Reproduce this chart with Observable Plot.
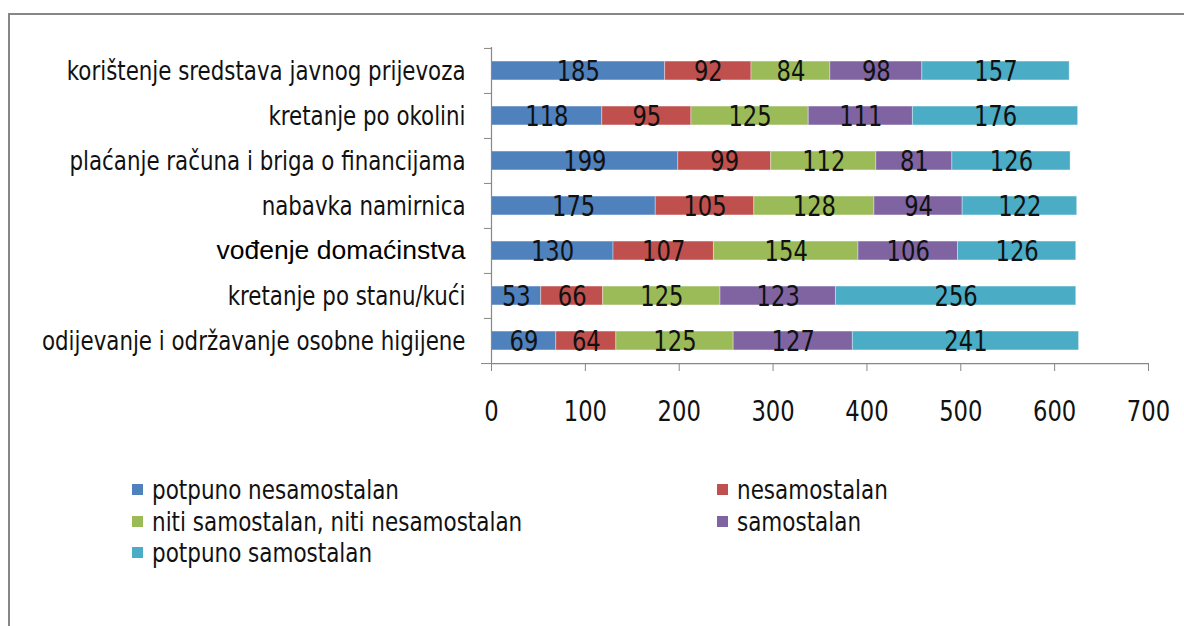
<!DOCTYPE html>
<html>
<head>
<meta charset="utf-8">
<script src="https://cdn.jsdelivr.net/npm/d3@7"></script>
<script src="https://cdn.jsdelivr.net/npm/@observablehq/plot@0.6"></script>
<style>
  html, body { margin: 0; padding: 0; background: #fff; }
  #wrap { position: relative; width: 1184px; height: 626px; overflow: hidden; background: #fff; }
  #frame { position: absolute; left: 8px; top: 13px; width: 1200px; height: 640px;
           border-left: 2.5px solid #878787; border-top: 2.5px solid #878787; box-sizing: border-box; }
  #chart { position: absolute; left: 0; top: 0; }
  #legend { position: absolute; left: 132px; top: 474px; display: grid;
            grid-template-columns: 585px auto; grid-auto-rows: 31.5px;
            font-family: "DejaVu Sans Condensed", "DejaVu Sans", sans-serif; font-size: 27px; color: #111; }
  .item { display: flex; align-items: center; white-space: nowrap; }
  .sw { width: 11px; height: 11px; margin-right: 9px; flex: none; }
  .lt { display: inline-block; transform: scaleX(0.885); transform-origin: left center; }
</style>
</head>
<body>
<div id="wrap">
  <div id="frame"></div>
  <div id="chart"></div>
  <div id="legend"></div>
</div>
<script>
const categories = [
  "korištenje sredstava javnog prijevoza",
  "kretanje po okolini",
  "plaćanje računa i briga o financijama",
  "nabavka namirnica",
  "vođenje domaćinstva",
  "kretanje po stanu/kući",
  "odijevanje i održavanje osobne higijene"
];
const series = [
  "potpuno nesamostalan",
  "nesamostalan",
  "niti samostalan, niti nesamostalan",
  "samostalan",
  "potpuno samostalan"
];
const colors = ["#4F81BD", "#C0504D", "#9BBB59", "#8064A2", "#4BACC6"];
// values per series, in category order
const potpunoNesamostalan = [185, 118, 199, 175, 130, 53, 69];
const nesamostalan        = [92, 95, 99, 105, 107, 66, 64];
const niti                = [84, 125, 112, 128, 154, 125, 125];
const samostalan          = [98, 111, 81, 94, 106, 123, 127];
const potpunoSamostalan   = [157, 176, 126, 122, 126, 256, 241];
const xTicks = [0, 100, 200, 300, 400, 500, 600, 700];

const seriesValues = [potpunoNesamostalan, nesamostalan, niti, samostalan, potpunoSamostalan];
const data = [];
categories.forEach((c, i) => {
  series.forEach((s, j) => data.push({category: c, series: s, value: seriesValues[j][i]}));
});

const W = 1184, H = 440, mT = 47, mB = 77, mL = 491, mR = 36;
const step = (H - mT - mB) / categories.length;
const barH = 19;
const inset = (step - barH) / 2;
const condensed = '"DejaVu Sans Condensed", "DejaVu Sans", sans-serif';
const special = "vođenje domaćinstva";

const plot = Plot.plot({
  width: W, height: H,
  marginTop: mT, marginBottom: mB, marginLeft: mL, marginRight: mR,
  style: {fontFamily: condensed, background: "transparent", color: "#111"},
  x: {domain: [0, 700], axis: null},
  y: {domain: categories, padding: 0, axis: null},
  color: {domain: series, range: colors},
  marks: [
    Plot.barX(data, {
      x: "value", y: "category", fill: "series", order: null,
      insetTop: inset, insetBottom: inset,
      stroke: "white", strokeOpacity: 0.35, strokeWidth: 1
    }),
    Plot.text(data, Plot.stackX({
      x: "value", y: "category", z: "series", order: null, text: "value",
      fontSize: 28, fill: "#111", dy: 1, className: "narrow09"
    })),
    Plot.ruleX([0], {stroke: "#878787", strokeWidth: 1.2}),
    Plot.ruleY([categories[categories.length - 1]], {stroke: "#878787", strokeWidth: 1.2, dy: step / 2}),
    Plot.axisX(xTicks, {tickSize: 8, tickPadding: 30, fontSize: 28, stroke: "#878787", fill: "#111", label: null, className: "narrow09"}),
    Plot.axisY(categories, {text: null, tickSize: 7, dy: -step / 2, stroke: "#878787", label: null}),
    Plot.axisY([categories[categories.length - 1]], {text: null, tickSize: 10, dy: step / 2, stroke: "#878787", label: null}),
    Plot.axisY(categories.filter(c => c !== special), {tickSize: 0, tickPadding: 26, fontSize: 27, fill: "#111", label: null, className: "narrow088"}),
    Plot.axisY([special], {tickSize: 0, tickPadding: 26, fontSize: 26.5, fill: "#000", label: null,
      fontFamily: '"Liberation Sans", Arial, sans-serif'})
  ]
});
// render condensed text narrower, like the reference's narrow face
function squeeze(sel, k) {
  d3.select(plot).selectAll(sel).each(function() {
    const t = this.getAttribute("transform") || "";
    this.setAttribute("transform", t + ` scale(${k},1)`);
  });
}
squeeze(".narrow09 text", 0.9);
squeeze(".narrow088 text", 0.88);
document.getElementById("chart").appendChild(plot);

const legend = document.getElementById("legend");
series.forEach((s, j) => {
  const item = document.createElement("div");
  item.className = "item";
  const sw = document.createElement("span");
  sw.className = "sw";
  sw.style.background = colors[j];
  const t = document.createElement("span");
  t.className = "lt";
  t.textContent = s;
  item.appendChild(sw);
  item.appendChild(t);
  legend.appendChild(item);
});
</script>
</body>
</html>
